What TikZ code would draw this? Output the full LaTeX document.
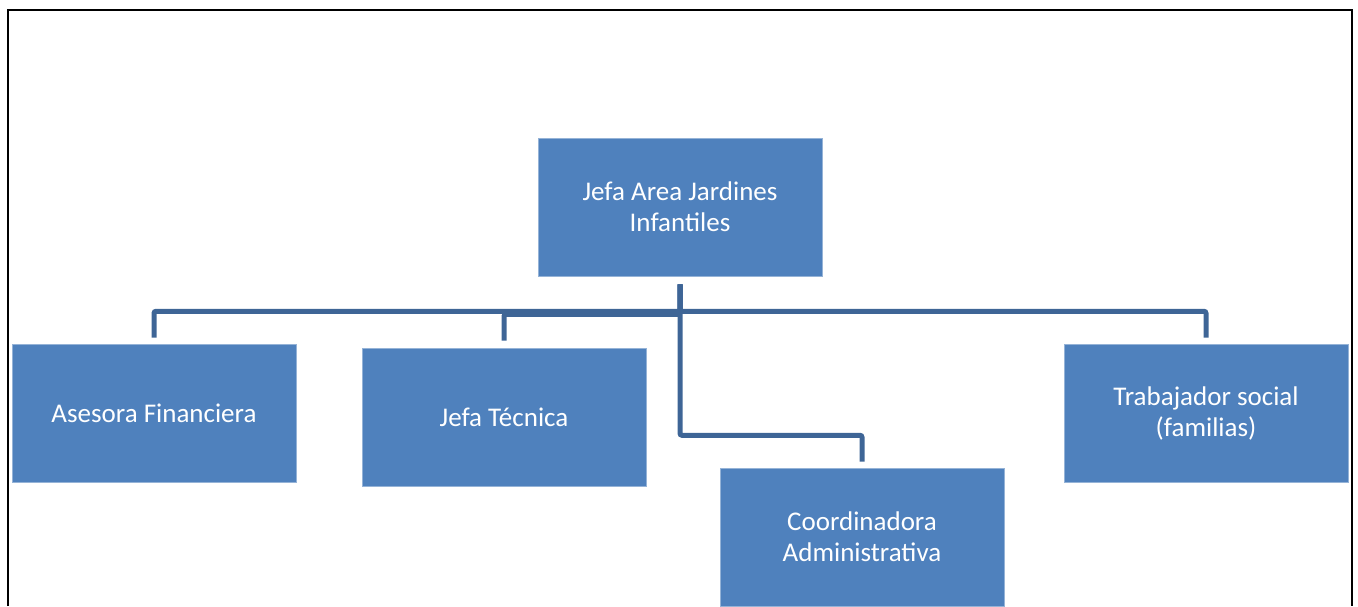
\documentclass[tikz,border=0pt]{standalone}
\usepackage{fontspec}
\setmainfont{Carlito}
\definecolor{boxblue}{HTML}{4F81BD}
\definecolor{linkblue}{HTML}{3E6596}
\begin{document}
\begin{tikzpicture}[x=1pt,y=1pt,
  orgbox/.style={rectangle, fill=boxblue, draw=boxblue!60!white, line width=0.6pt, minimum width=284pt, minimum height=138pt,
    inner sep=0pt, text=white, align=center, font=\fontsize{27}{31}\selectfont},
  conn/.style={draw=linkblue, line width=5pt, rounded corners=2pt}]
\useasboundingbox (0,0) rectangle (1358,-606);
\draw[line width=2.5pt] (8,-606) -- (8,-10) -- (1352,-10) -- (1352,-606);
\node[orgbox] (top) at (680,-207) {Jefa Area Jardines\\Infantiles};
\node[orgbox] (ase) at (154,-413) {Asesora Financiera};
\node[orgbox] (tec) at (504,-417) {Jefa Técnica};
\node[orgbox] (coo) at (862,-537) {Coordinadora\\Administrativa};
\node[orgbox] (tra) at (1206,-413) {Trabajador social\\(familias)};
\draw[conn] ([yshift=-8pt]top.south) -- ([yshift=-35pt]top.south) -| ([yshift=6pt]ase.north);
\draw[conn] ([yshift=-8pt]top.south) -- ([yshift=-35pt]top.south) -| ([yshift=6pt]tra.north);
\draw[conn] ([yshift=-8pt]top.south) -- ([yshift=-38pt]top.south) -| ([yshift=7pt]tec.north);
\draw[conn] ([yshift=-8pt]top.south) -- ([yshift=-159pt]top.south) -| ([yshift=6pt]coo.north);
\end{tikzpicture}
\end{document}
